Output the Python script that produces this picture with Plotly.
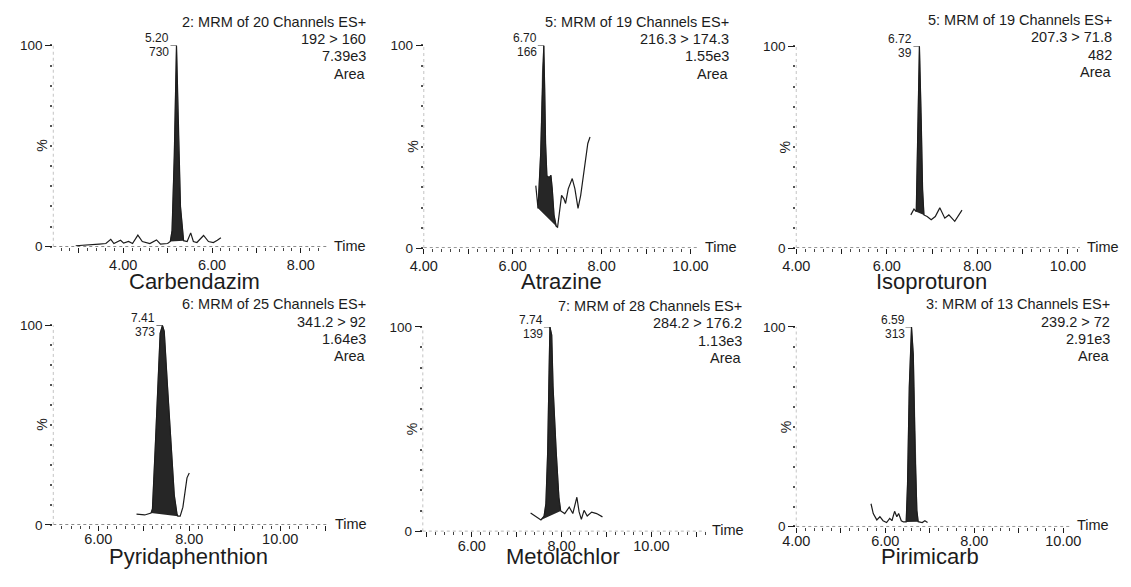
import math
import plotly.graph_objects as go

W, H = 1131, 587          # browser window
PAGE_MARGIN = 8           # default body margin of the page
FW, FH = W - 2 * PAGE_MARGIN, H - 2 * PAGE_MARGIN

# ---------------- data ----------------
compounds = ["Carbendazim", "Atrazine", "Isoproturon",
             "Pyridaphenthion", "Metolachlor", "Pirimicarb"]
functions = ["2: MRM of 20 Channels ES+", "5: MRM of 19 Channels ES+",
             "5: MRM of 19 Channels ES+", "6: MRM of 25 Channels ES+",
             "7: MRM of 28 Channels ES+", "3: MRM of 13 Channels ES+"]
transitions = ["192 > 160", "216.3 > 174.3", "207.3 > 71.8",
               "341.2 > 92", "284.2 > 176.2", "239.2 > 72"]
area_values = ["7.39e3", "1.55e3", "482", "1.64e3", "1.13e3", "2.91e3"]
peak_rt = [5.20, 6.70, 6.72, 7.41, 7.74, 6.59]
peak_height = [730, 166, 39, 373, 139, 313]
int_start = [5.06, 6.57, 6.65, 7.16, 7.54, 6.47]
int_end = [5.36, 6.98, 6.82, 7.75, 7.98, 6.74]

carbendazim_t = [2.93, 3.24, 3.46, 3.61, 3.72, 3.79, 3.94, 4.01, 4.12, 4.21,
                 4.33, 4.43, 4.60, 4.75, 4.84, 5.00, 5.06, 5.10, 5.15, 5.20,
                 5.24, 5.29, 5.36, 5.44, 5.52, 5.58, 5.66, 5.81, 5.92, 6.03,
                 6.12, 6.20]
carbendazim_i = [0.5, 0.8, 1.3, 1.6, 3.7, 1.6, 3.2, 1.8, 2.6, 1.6,
                 5.8, 2.6, 1.6, 3.4, 1.3, 1.6, 2.6, 8.0, 45.0, 100.0,
                 60.0, 20.0, 3.0, 2.6, 6.9, 2.6, 2.1, 5.6, 2.6, 2.1,
                 3.2, 4.5]

atrazine_t = [6.52, 6.57, 6.63, 6.67, 6.70, 6.72, 6.74, 6.77, 6.82, 6.86,
              6.89, 6.93, 6.98, 7.01, 7.05, 7.10, 7.15, 7.19, 7.25, 7.34,
              7.40, 7.47, 7.53, 7.62, 7.69, 7.74]
atrazine_i = [30.8, 19.6, 46.8, 86.9, 100.0, 78.8, 51.6, 35.6, 34.8, 35.9,
              29.2, 16.3, 10.7, 10.3, 17.9, 26.0, 24.4, 22.0, 29.2, 34.3,
              29.2, 19.6, 26.0, 42.0, 51.6, 54.8]

isoproturon_t = [6.53, 6.60, 6.65, 6.68, 6.72, 6.76, 6.79, 6.82, 6.89, 6.98,
                 7.07, 7.17, 7.28, 7.37, 7.50, 7.66]
isoproturon_i = [16.4, 19.3, 18.0, 55.0, 100.0, 63.0, 29.0, 16.4, 15.6, 14.0,
                 15.6, 19.9, 14.8, 16.4, 13.2, 18.8]

pyridaphenthion_t = [6.84, 7.02, 7.16, 7.19, 7.25, 7.31, 7.36, 7.41, 7.45, 7.52,
                     7.60, 7.67, 7.73, 7.75, 7.80, 7.86, 7.91, 7.95, 8.00]
pyridaphenthion_i = [5.4, 5.0, 6.0, 8.0, 38.0, 70.0, 96.0, 100.0, 97.0, 70.0,
                     38.0, 15.0, 5.5, 4.4, 4.4, 8.9, 17.1, 23.6, 26.0]

metolachlor_t = [7.31, 7.41, 7.54, 7.61, 7.65, 7.69, 7.72, 7.74, 7.78, 7.81,
                 7.88, 7.94, 7.98, 8.07, 8.17, 8.25, 8.34, 8.39, 8.44, 8.50,
                 8.57, 8.67, 8.78, 8.91]
metolachlor_i = [9.0, 7.5, 5.6, 7.5, 13.5, 38.9, 78.6, 100.0, 96.0, 70.6,
                 38.9, 16.7, 10.0, 8.7, 11.9, 8.7, 16.7, 9.5, 5.9, 10.3,
                 7.5, 9.4, 8.7, 7.1]

pirimicarb_t = [5.68, 5.73, 5.81, 5.88, 5.95, 6.03, 6.10, 6.15, 6.21, 6.26,
                6.30, 6.36, 6.41, 6.47, 6.50, 6.54, 6.59, 6.63, 6.67, 6.71,
                6.74, 6.83, 6.89, 6.95]
pirimicarb_i = [11.4, 6.5, 3.3, 4.9, 2.9, 2.0, 4.1, 2.9, 7.6, 4.9,
                6.5, 2.9, 2.3, 2.3, 21.0, 70.0, 100.0, 86.0, 37.0, 8.1,
                2.4, 2.0, 2.9, 2.0]

traces_t = [carbendazim_t, atrazine_t, isoproturon_t,
            pyridaphenthion_t, metolachlor_t, pirimicarb_t]
traces_i = [carbendazim_i, atrazine_i, isoproturon_i,
            pyridaphenthion_i, metolachlor_i, pirimicarb_i]

# ---------------- layout (window pixels) ----------------
panel_px = [(40, 320, 39.3, 246.0), (419, 700, 39.3, 247.3), (800, 1090, 40.0, 247.3),
            (40, 321, 326.7, 531.7), (418, 707, 328.3, 538.3), (800, 1080, 328.3, 533.3)]
x_ranges = [(2.425, 8.59), (4.0, 10.18), (4.0, 10.26),
            (5.01, 11.05), (4.91, 11.20), (4.0, 10.15)]
label_standoff = [0, 0, 0, -4, -4, -4]
text_right = [362, 733, 1125, 362, 747, 1123]
text_top = [15, 15, 13, 305, 307, 305]
name_pos = [(184, 282), (560, 282), (938, 282), (178, 564), (561, 564), (937, 564)]

FONT = "Liberation Sans, Arial, Helvetica, sans-serif"
INK = "#1c1c1c"


def px(x):
    return (x - PAGE_MARGIN) / FW


def py(y):
    return 1 - (y - PAGE_MARGIN) / FH


fig = go.Figure()
annotations = []
shapes = []

for k in range(6):
    ax = "" if k == 0 else str(k + 1)
    xa, ya = "x" + ax, "y" + ax
    t, v = traces_t[k], traces_i[k]
    pt = [a for a in t if int_start[k] <= a <= int_end[k]]
    pv = [b for a, b in zip(t, v) if int_start[k] <= a <= int_end[k]]
    fig.add_trace(go.Scatter(x=pt, y=pv, xaxis=xa, yaxis=ya, mode="lines",
                             fill="toself", fillcolor="#262626",
                             line=dict(width=0.6, color="#262626"),
                             hoverinfo="skip", showlegend=False, cliponaxis=False))
    fig.add_trace(go.Scatter(x=t, y=v, xaxis=xa, yaxis=ya, mode="lines",
                             line=dict(color=INK, width=1.2),
                             showlegend=False, cliponaxis=False))

    x0, x1, yt, yb = panel_px[k]
    lo, hi = x_ranges[k]
    majors = list(range(int(math.ceil(lo)), int(math.floor(hi)) + 1))
    labels = [f"{m:.2f}" if m % 2 == 0 else "" for m in majors]
    fig.layout["xaxis" + ax] = dict(
        domain=[px(x0), px(x1)], range=[lo, hi], anchor=ya,
        tickmode="array", tickvals=majors, ticktext=labels,
        ticks="outside", ticklen=5, tickwidth=1, tickcolor=INK,
        ticklabelstandoff=label_standoff[k],
        showline=False, showgrid=False, zeroline=False,
        tickfont=dict(family=FONT, size=14.5, color=INK),
        minor=dict(tickmode="linear", tick0=0, dtick=0.2, ticks="outside",
                   ticklen=3, tickwidth=1, tickcolor="#444", showgrid=False),
    )
    fig.layout["yaxis" + ax] = dict(
        domain=[py(yb), py(yt)], range=[0, 100], anchor=xa,
        tickmode="array", tickvals=[0, 100], ticktext=["0", "100"],
        ticks="outside", ticklen=7, tickwidth=1, tickcolor=INK,
        showline=False, showgrid=False, zeroline=False,
        tickfont=dict(family=FONT, size=13.5, color=INK),
        minor=dict(tickmode="linear", tick0=0, dtick=10, ticks="outside",
                   ticklen=2, tickwidth=1.5, tickcolor="#555", showgrid=False),
    )
    # dotted axis lines
    shapes.append(dict(type="line", xref=xa + " domain", yref=ya,
                       x0=0, x1=1, y0=0, y1=0,
                       line=dict(color="#333", width=1, dash="dot")))
    shapes.append(dict(type="line", xref=xa + " domain", yref=ya + " domain",
                       x0=0, x1=0, y0=0, y1=1,
                       line=dict(color="#c4c4c4", width=1, dash="dot")))

    # header block
    lines = [functions[k], transitions[k], area_values[k], "Area"]
    for j, txt in enumerate(lines):
        annotations.append(dict(text=txt, xref="paper", yref="paper",
                                x=px(text_right[k]), y=py(text_top[k] + j * 17.8),
                                xanchor="right", yanchor="middle", showarrow=False,
                                font=dict(family=FONT, size=14.5, color=INK)))
    # peak labels
    annotations.append(dict(text=f"{peak_rt[k]:.2f}", xref=xa, yref=ya,
                            x=peak_rt[k], y=100, xanchor="right", yanchor="middle",
                            xshift=-5, yshift=7, showarrow=False,
                            font=dict(family=FONT, size=12, color=INK)))
    annotations.append(dict(text=str(peak_height[k]), xref=xa, yref=ya,
                            x=peak_rt[k], y=100, xanchor="right", yanchor="middle",
                            xshift=-5, yshift=-7, showarrow=False,
                            font=dict(family=FONT, size=12, color=INK)))
    shapes.append(dict(type="line", xref=xa, yref=ya, xsizemode="pixel",
                       xanchor=peak_rt[k], x0=-6, x1=0, y0=100, y1=100,
                       line=dict(color=INK, width=1)))
    # compound name
    annotations.append(dict(text=compounds[k], xref="paper", yref="paper",
                            x=px(name_pos[k][0]), y=py(name_pos[k][1]),
                            xanchor="center", yanchor="middle", showarrow=False,
                            font=dict(family=FONT, size=22, color=INK)))
    # Time label
    annotations.append(dict(text="Time", xref=xa + " domain", yref=ya,
                            x=1, y=0, xanchor="left", yanchor="middle",
                            xshift=5, yshift=1, showarrow=False,
                            font=dict(family=FONT, size=14.5, color=INK)))
    # % label
    annotations.append(dict(text="%", xref="paper", yref="paper",
                            x=px(x0 - 11), y=py((yt + yb) / 2),
                            xanchor="center", yanchor="middle", textangle=-90,
                            showarrow=False,
                            font=dict(family=FONT, size=14, color=INK)))

fig.update_layout(width=FW, height=FH, margin=dict(l=0, r=0, t=0, b=0),
                  plot_bgcolor="white", paper_bgcolor="white",
                  annotations=annotations, shapes=shapes, showlegend=False)

fig.write_html("out.html", config={"displayModeBar": False})
